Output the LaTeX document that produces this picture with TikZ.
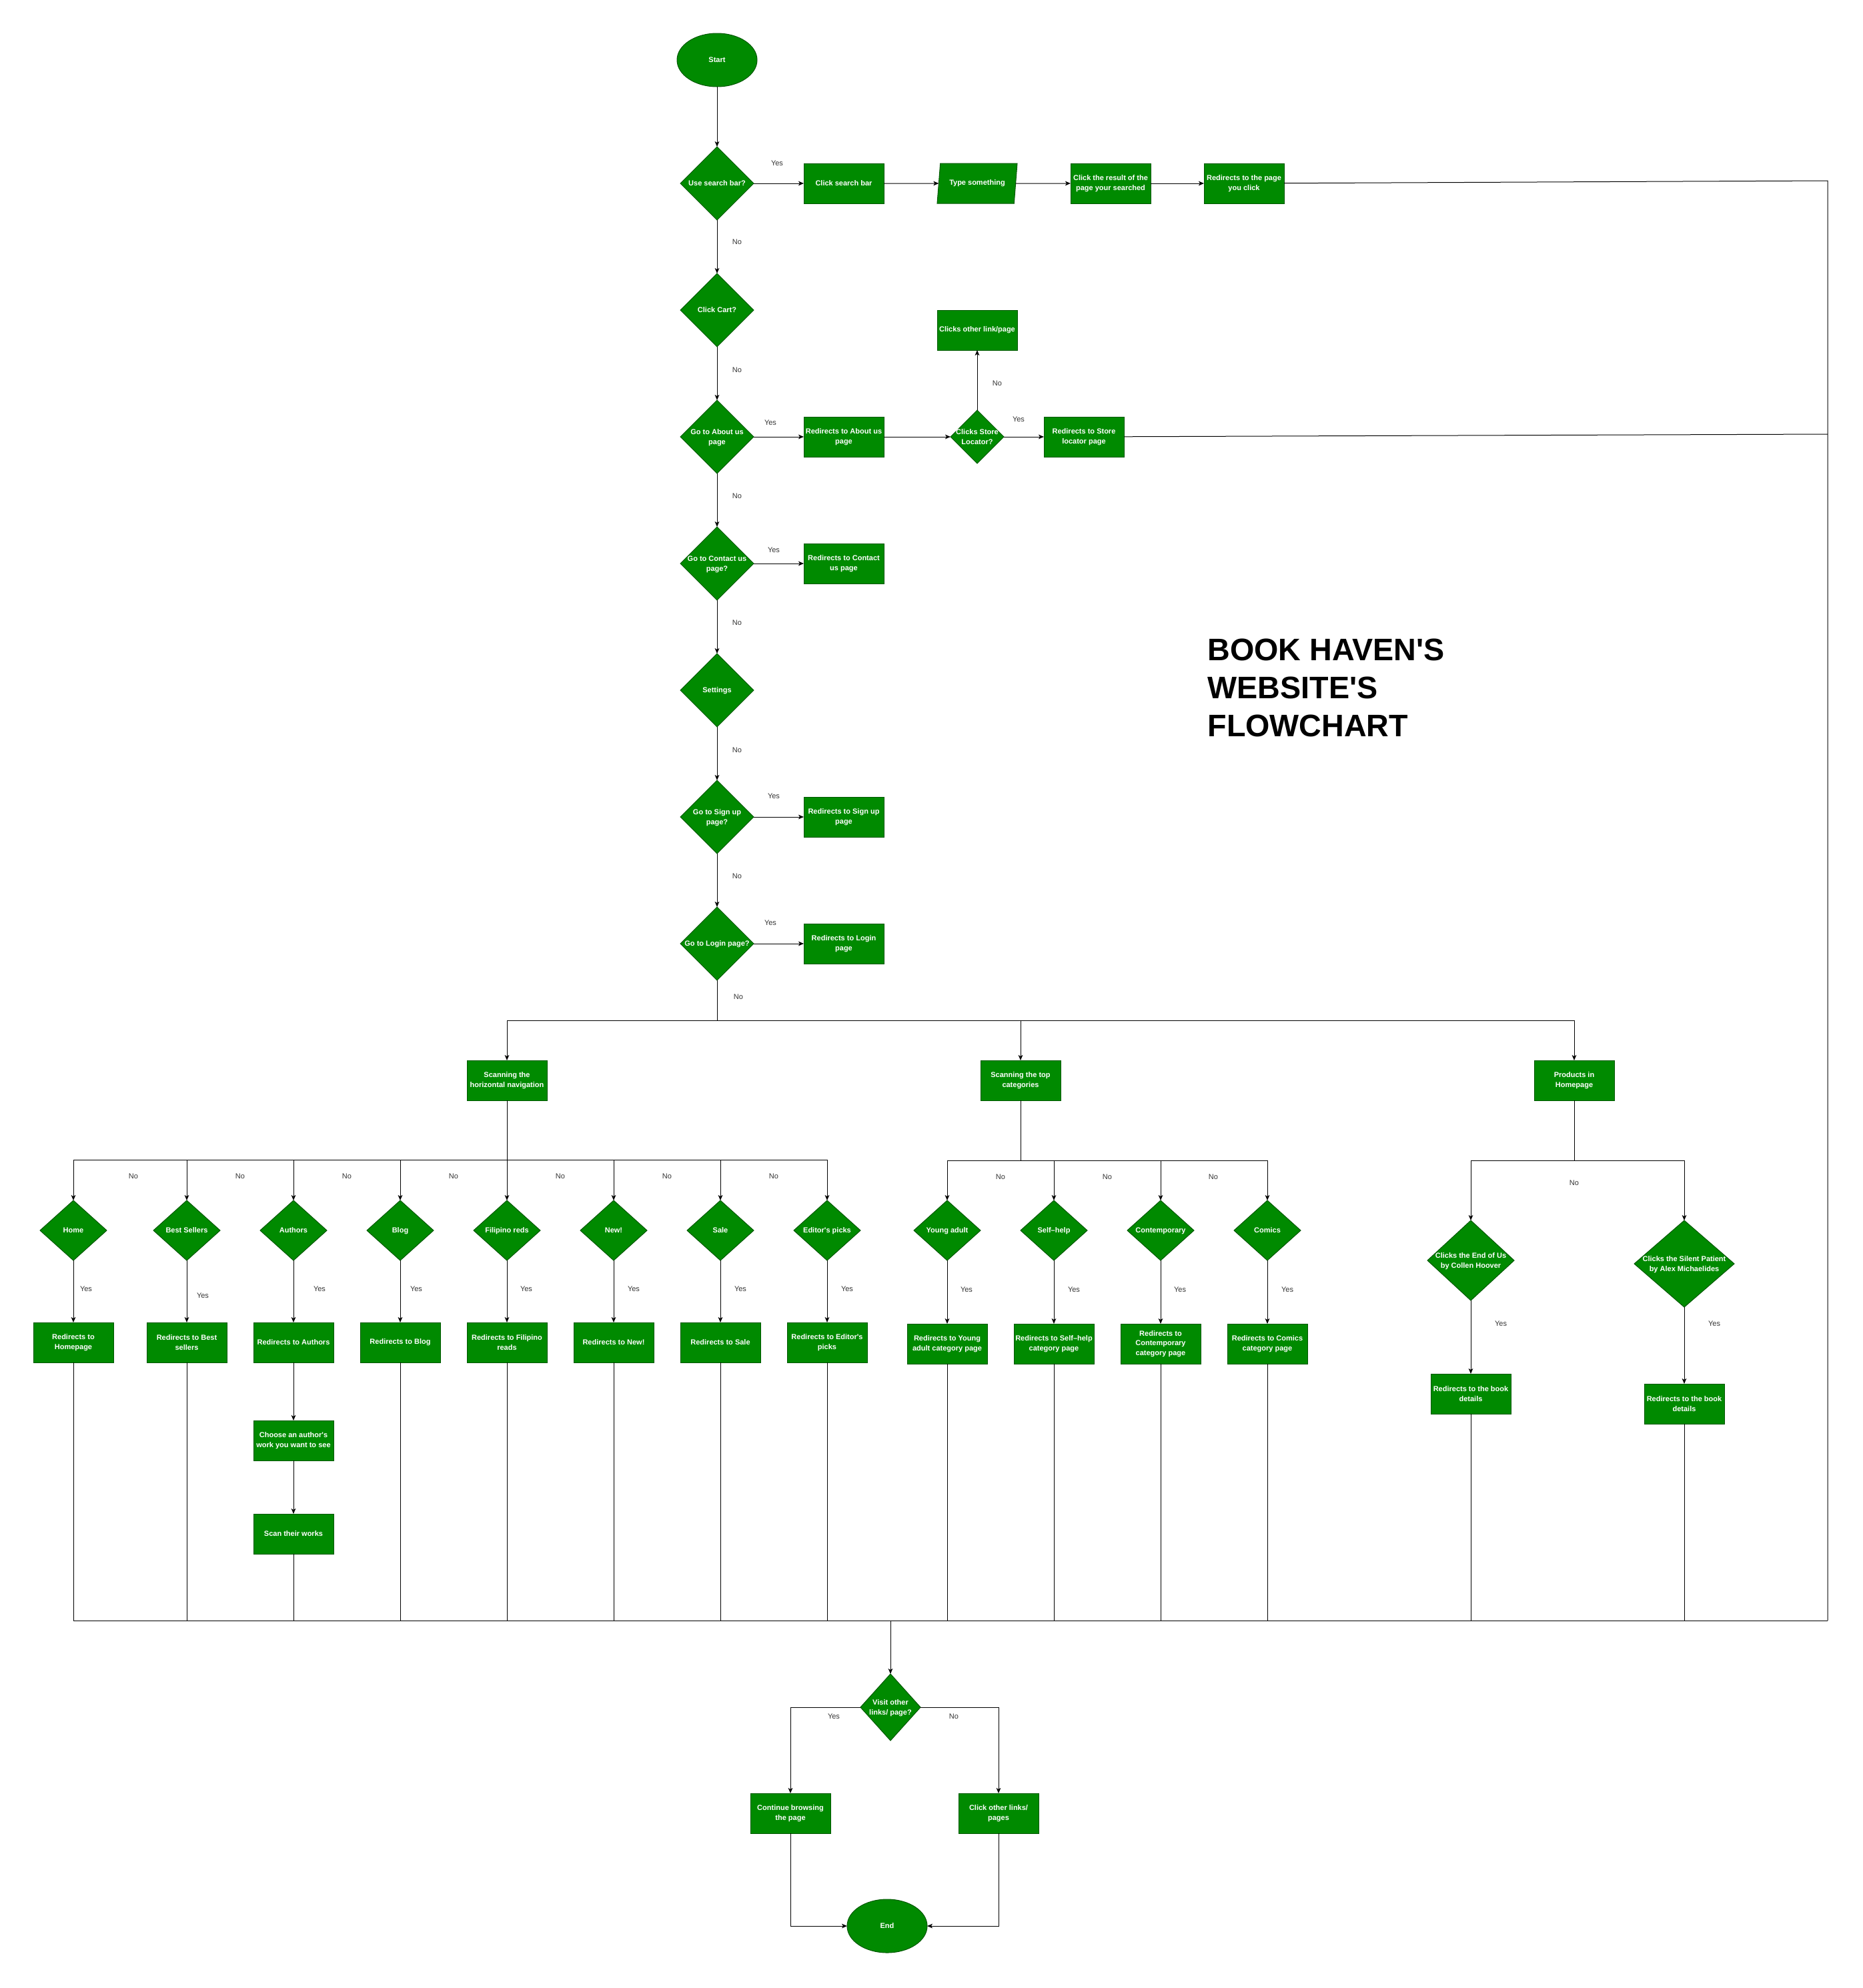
\documentclass[tikz,border=0pt]{standalone}
\usepackage{fontspec}
\setmainfont{Liberation Sans}[Ligatures=TeXOff]
\usetikzlibrary{shapes.geometric,arrows.meta}

\definecolor{flowgreen}{HTML}{008A00}
\definecolor{flowedge}{HTML}{005700}

\newcommand*{\picw}{2793}
\newcommand*{\pich}{2981}
\newcommand*{\nodefont}{\fontsize{8.25}{11}\selectfont\bfseries}
\newcommand*{\lblfont}{\fontsize{8.25}{10}\selectfont}
\newcommand*{\titlefont}{\fontsize{35}{42.75}\selectfont\bfseries}
\newcommand{\dtxt}[1]{\smash{\makebox[0pt]{\raisebox{-2.7pt}{\begin{tabular}{@{}c@{}}#1\end{tabular}}}}}

\begin{document}
\begin{tikzpicture}
[
	x=0.75pt, y=-0.75pt,
	line width=0.75pt,
	>={Stealth[length=6pt,width=5pt,inset=1.5pt]},
	box/.style={rectangle,draw=flowedge,fill=flowgreen,text=white,font=\nodefont,align=center,minimum width=90pt,minimum height=45pt,inner sep=1pt,outer sep=0pt},
	decision/.style={diamond,draw=flowedge,fill=flowgreen,text=white,font=\nodefont,minimum width=82.5pt,minimum height=82.5pt,inner sep=0pt,outer sep=0pt},
	smalldec/.style={decision,minimum width=75pt,minimum height=67.5pt},
	terminal/.style={ellipse,draw=flowedge,fill=flowgreen,text=white,font=\nodefont,minimum width=90pt,minimum height=60pt,inner sep=0pt,outer sep=0pt},
	inout/.style={trapezium,trapezium left angle=70,trapezium right angle=110,trapezium stretches body,draw=flowedge,fill=flowgreen,text=white,font=\nodefont,minimum width=90pt,minimum height=45pt,inner sep=1pt,outer sep=0pt},
	lbl/.style={font=\lblfont,text=black!80,inner sep=0pt}
]

	\useasboundingbox (0,0) rectangle (\picw,\pich);

	% title
	\node[font=\titlefont,align=left,anchor=north west,inner sep=0pt] (title) at (1810,957) {BOOK HAVEN'S\\WEBSITE'S\\FLOWCHART};

	% main column
	\node[terminal] (start) at (1075,90) {Start};
	\node[decision] (search) at (1075,275) {\dtxt{Use search bar?}};
	\node[decision] (cart) at (1075,465) {\dtxt{Click Cart?}};
	\node[decision] (about) at (1075,655) {\dtxt{Go to About us\\page}};
	\node[decision] (contact) at (1075,845) {\dtxt{Go to Contact us\\page?}};
	\node[decision] (settings) at (1075,1035) {\dtxt{Settings}};
	\node[decision] (signup) at (1075,1225) {\dtxt{Go to Sign up\\page?}};
	\node[decision] (login) at (1075,1415) {\dtxt{Go to Login page?}};

	\draw[->] (start) -- (search);
	\draw[->] (search) -- (cart);
	\draw[->] (cart) -- (about);
	\draw[->] (about) -- (contact);
	\draw[->] (contact) -- (settings);
	\draw[->] (settings) -- (signup);
	\draw[->] (signup) -- (login);

	\node[lbl] (searchno) at (1105,363) {No};
	\node[lbl] (cartno) at (1105,555) {No};
	\node[lbl] (aboutno) at (1105,744) {No};
	\node[lbl] (contactno) at (1105,934) {No};
	\node[lbl] (settingsno) at (1105,1125) {No};
	\node[lbl] (signupno) at (1105,1314) {No};
	\node[lbl] (loginno) at (1107,1495) {No};

	% search row
	\node[box] (bar) at (1265,275) {Click search bar};
	\node[inout] (type) at (1465,275) {Type something};
	\node[box] (result) at (1665,275) {Click the result of the\\page your searched};
	\node[box] (page) at (1865,275) {Redirects to the page\\you click};
	\draw[->] (search) -- (bar);
	\draw[->] (bar) -- (type);
	\draw[->] (type) -- (result);
	\draw[->] (result) -- (page);
	\node[lbl] (searchyes) at (1165,245) {Yes};

	% about us row
	\node[box] (aboutpg) at (1265,655) {Redirects to About us\\page};
	\node[decision,minimum width=60pt,minimum height=60pt] (store) at (1465,655) {\dtxt{Clicks Store\\Locator?}};
	\node[box] (other) at (1465,495) {Clicks other link/page};
	\node[box] (storepg) at (1625,655) {Redirects to Store\\locator page};
	\draw[->] (about) -- (aboutpg);
	\draw[->] (aboutpg) -- (store);
	\draw[->] (store) -- (other);
	\draw[->] (store) -- (storepg);
	\node[lbl] (aboutyes) at (1155,634) {Yes};
	\node[lbl] (storeno) at (1495,575) {No};
	\node[lbl] (storeyes) at (1527,629) {Yes};

	% other pages
	\node[box] (contactpg) at (1265,845) {Redirects to Contact\\us page};
	\node[box] (signuppg) at (1265,1225) {Redirects to Sign up\\page};
	\node[box] (loginpg) at (1265,1415) {Redirects to Login\\page};
	\draw[->] (contact) -- (contactpg);
	\draw[->] (signup) -- (signuppg);
	\draw[->] (login) -- (loginpg);
	\node[lbl] (contactyes) at (1160,825) {Yes};
	\node[lbl] (signupyes) at (1160,1194) {Yes};
	\node[lbl] (loginyes) at (1155,1384) {Yes};

	% three ways of browsing
	\coordinate (lb) at (1075,1530);
	\node[box] (hnav) at (760,1620) {Scanning the\\horizontal navigation};
	\node[box] (topcat) at (1530,1620) {Scanning the top\\categories};
	\node[box] (prod) at (2360,1620) {Products in\\Homepage};
	\draw (login) -- (lb);
	\draw[->] (lb) -| (hnav);
	\draw[->] (lb) -| (topcat);
	\draw[->] (lb) -| (prod);

	% merge line
	\coordinate (mb) at (1335,2430);
	\coordinate (mr) at (2740,2430);
	\coordinate (rt) at (2740,271);
	\coordinate (rs) at (2740,651);
	\draw (page) -- (rt) -- (mr);
	\draw (storepg) -- (rs);

	% horizontal navigation
	\coordinate (nb) at (760,1739);
	\draw (hnav) -- (nb);
	\foreach \x/\nm/\q/\res in {110/home/Home/{Redirects to\\Homepage}, 280/best/Best Sellers/{Redirects to Best\\sellers}, 440/authors/Authors/{Redirects to Authors}, 600/blog/Blog/{Redirects to Blog}, 760/filipino/Filipino reds/{Redirects to Filipino\\reads}, 920/new/New!/{Redirects to New!}, 1080/sale/Sale/{Redirects to Sale}, 1240/editor/Editor's picks/{Redirects to Editor's\\picks}}
	{
		\node[smalldec] (d\nm) at (\x,1845) {\dtxt{\q}};
		\node[box] (r\nm) at (\x,2013) {\res};
		\draw[->] (nb) -| (d\nm.north);
		\draw[->] (d\nm) -- (r\nm);
	}
	\foreach \x [count=\i] in {200,360,520,680,840,1000,1160}
		\node[lbl] (navno\i) at (\x,1764) {No};
	\foreach \x/\y [count=\i] in {129/1933,304/1943,479/1933,624/1933,789/1933,950/1933,1110/1933,1270/1933}
		\node[lbl] (navyes\i) at (\x,\y) {Yes};

	\node[box] (choose) at (440,2160) {Choose an author's\\work you want to see};
	\node[box] (scan) at (440,2300) {Scan their works};
	\draw[->] (rauthors) -- (choose);
	\draw[->] (choose) -- (scan);
	\draw (scan.south) -- (scan.south |- mb);
	\foreach \nm in {home,best,blog,filipino,new,sale,editor}
		\draw (r\nm.south) -- (r\nm.south |- mb);

	% top categories
	\coordinate (cb) at (1530,1740);
	\draw (topcat) -- (cb);
	\foreach \x/\nm/\q/\res in {1420/young/Young adult/{Redirects to Young\\adult category page}, 1580/self/Self–help/{Redirects to Self–help\\category page}, 1740/contemp/Contemporary/{Redirects to\\Contemporary\\category page}, 1900/comics/Comics/{Redirects to Comics\\category page}}
	{
		\node[smalldec] (d\nm) at (\x,1845) {\dtxt{\q}};
		\node[box] (r\nm) at (\x,2015) {\res};
		\draw[->] (cb) -| (d\nm.north);
		\draw[->] (d\nm) -- (r\nm);
		\draw (r\nm.south) -- (r\nm.south |- mb);
	}
	\foreach \x [count=\i] in {1500,1660,1819}
		\node[lbl] (catno\i) at (\x,1765) {No};
	\foreach \x [count=\i] in {1449,1610,1769,1930}
		\node[lbl] (catyes\i) at (\x,1934) {Yes};

	% products in homepage
	\coordinate (pb) at (2360,1740);
	\node[decision,minimum width=97.5pt,minimum height=90pt] (endofus) at (2205,1890) {\dtxt{Clicks the End of Us\\by Collen Hoover}};
	\node[decision,minimum width=112.5pt,minimum height=97.5pt] (silent) at (2525,1895) {\dtxt{Clicks the Silent Patient\\by Alex Michaelides}};
	\node[box] (book1) at (2205,2090) {Redirects to the book\\details};
	\node[box] (book2) at (2525,2105) {Redirects to the book\\details};
	\draw (prod) -- (pb);
	\draw[->] (pb) -| (endofus.north);
	\draw[->] (pb) -| (silent.north);
	\draw[->] (endofus) -- (book1);
	\draw[->] (silent) -- (book2);
	\draw (book1.south) -- (book1.south |- mb);
	\draw (book2.south) -- (book2.south |- mb);
	\node[lbl] (prodno) at (2360,1774) {No};
	\node[lbl] (prodyes1) at (2250,1985) {Yes};
	\node[lbl] (prodyes2) at (2570,1985) {Yes};

	\draw (rhome.south |- mb) -- (mr);

	% end
	\node[decision,minimum width=67.5pt,minimum height=75pt] (visit) at (1335,2560) {\dtxt{Visit other\\links/ page?}};
	\node[box] (cont) at (1185,2719) {Continue browsing\\the page};
	\node[box] (clickother) at (1497,2719) {Click other links/\\pages};
	\node[terminal] (end) at (1330,2888) {End};
	\draw[->] (mb) -- (visit);
	\draw[->] (visit) -| (cont);
	\draw[->] (visit) -| (clickother);
	\draw[->] (cont) |- (end);
	\draw[->] (clickother) |- (end);
	\node[lbl] (visityes) at (1250,2574) {Yes};
	\node[lbl] (visitno) at (1430,2574) {No};

\end{tikzpicture}
\end{document}
